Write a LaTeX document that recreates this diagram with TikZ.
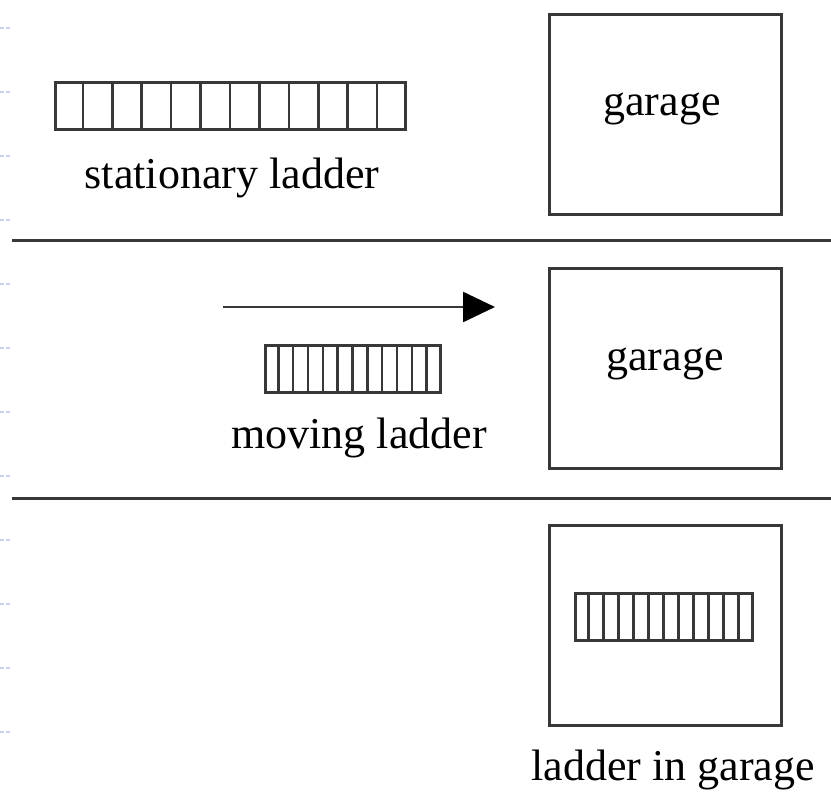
\documentclass[tikz,border=0pt]{standalone}
\usepackage{fontspec}
\setmainfont{Liberation Serif}
\usetikzlibrary{arrows.meta,calc}
\definecolor{ink}{HTML}{383838}
\definecolor{guide}{HTML}{C9D2EE}
\tikzset{
  garagebox/.style={draw=ink, line width=3pt, minimum width=232pt, minimum height=200pt, inner sep=0pt},
  ladderbox/.style={draw=ink, line width=3pt, inner sep=0pt},
  rung/.style={draw=ink, line width=2.6pt},
  caption/.style={font=\fontsize{44}{50}\selectfont, text=black, inner sep=0pt, anchor=base},
  divider/.style={draw=ink, line width=3pt},
  motion/.style={draw=ink, line width=2.5pt, -{Triangle[length=32pt,width=30pt,fill=black,color=black]}},
  guidemark/.style={draw=guide, line width=1.2pt, dash pattern=on 4pt off 2pt},
}
% rungs of a ladder node: 12 cells
\newcommand{\ladderrungs}[1]{%
  \foreach \i in {1,...,11}{%
    \draw[rung] ($(#1.north west)!\i/12!(#1.north east)$) -- ($(#1.south west)!\i/12!(#1.south east)$);
  }%
}
\begin{document}
\begin{tikzpicture}[x=1pt,y=-1pt]
\useasboundingbox (0,0) rectangle (831,793);

% faint guide ticks on the left edge
\foreach \k in {0,...,11}{
  \draw[guidemark] (0,{28+64*\k}) -- (12,{28+64*\k});
}

% panel 1: stationary ladder
\node[ladderbox, minimum width=350pt, minimum height=47pt] (L1) at (230,105.5) {};
\ladderrungs{L1}
\node[caption] (T1) at (232,188) {stationary ladder};
\node[garagebox] (G1) at (665,114) {};
\node[caption] (GT1) at (662,115) {garage};

% divider
\coordinate (D1a) at (12,240);
\coordinate (D1b) at (831,240);
\draw[divider] (D1a) -- (D1b);

% panel 2: moving ladder
\coordinate (A1) at (223,307);
\coordinate (A2) at (495,307);
\draw[motion] (A1) -- (A2);
\node[ladderbox, minimum width=175pt, minimum height=47pt] (L2) at (352.5,368.5) {};
\ladderrungs{L2}
\node[caption] (T2) at (359,448) {moving ladder};
\node[garagebox] (G2) at (665,368.5) {};
\node[caption] (GT2) at (665,370) {garage};

% divider
\coordinate (D2a) at (12,498);
\coordinate (D2b) at (831,498);
\draw[divider] (D2a) -- (D2b);

% panel 3: ladder in garage
\node[garagebox] (G3) at (665,625) {};
\node[ladderbox, minimum width=177pt, minimum height=47pt] (L3) at (663.5,616.5) {};
\ladderrungs{L3}
\node[caption] (T3) at (673,780) {ladder in garage};
\end{tikzpicture}
\end{document}
